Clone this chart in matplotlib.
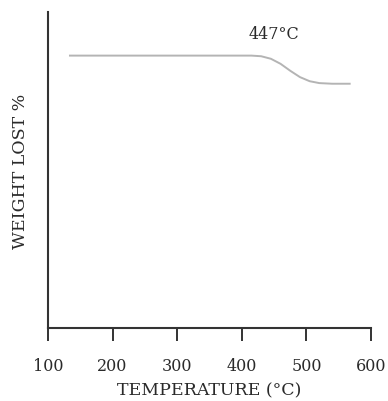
import matplotlib
matplotlib.use("Agg")
import matplotlib.pyplot as plt

# Data
temperature = [134, 300, 415, 430, 445, 460, 475, 490, 505, 520, 540, 567]
weight = [86.2, 86.2, 86.2, 86.0, 85.2, 83.6, 81.4, 79.4, 78.1, 77.5, 77.3, 77.3]
x_ticks = [100, 200, 300, 400, 500, 600]
annotation_text = "447°C"

plt.rcParams['font.family'] = ['DejaVu Serif']

fig = plt.figure(figsize=(3.88, 4.02), dpi=100)
ax = fig.add_axes([48/388, 73/402, (371-48)/388, (329-13)/402])

ax.plot(temperature, weight, color='#b4b4b4', lw=1.4)

ax.set_xlim(100, 600)
ax.set_ylim(0, 100)
ax.spines['top'].set_visible(False)
ax.spines['right'].set_visible(False)
for s in ['left', 'bottom']:
    ax.spines[s].set_linewidth(1.5)
    ax.spines[s].set_color('#333333')
ax.set_xticks(x_ticks)
ax.set_xticklabels([str(t) for t in x_ticks])
ax.tick_params(axis='x', direction='out', length=9, width=1.4, color='#333333',
               labelsize=11.5, labelcolor='#2a2a2a', pad=12)
ax.set_yticks([])

ax.set_xlabel('TEMPERATURE (°C)', fontsize=12.5, color='#2a2a2a', labelpad=5)
ax.set_ylabel('WEIGHT LOST %', fontsize=12.5, color='#2a2a2a', labelpad=14)

ax.text(450, 93.3, annotation_text, fontsize=11.5, color='#2a2a2a', ha='center', va='center')

fig.savefig('out.png', dpi=100)
